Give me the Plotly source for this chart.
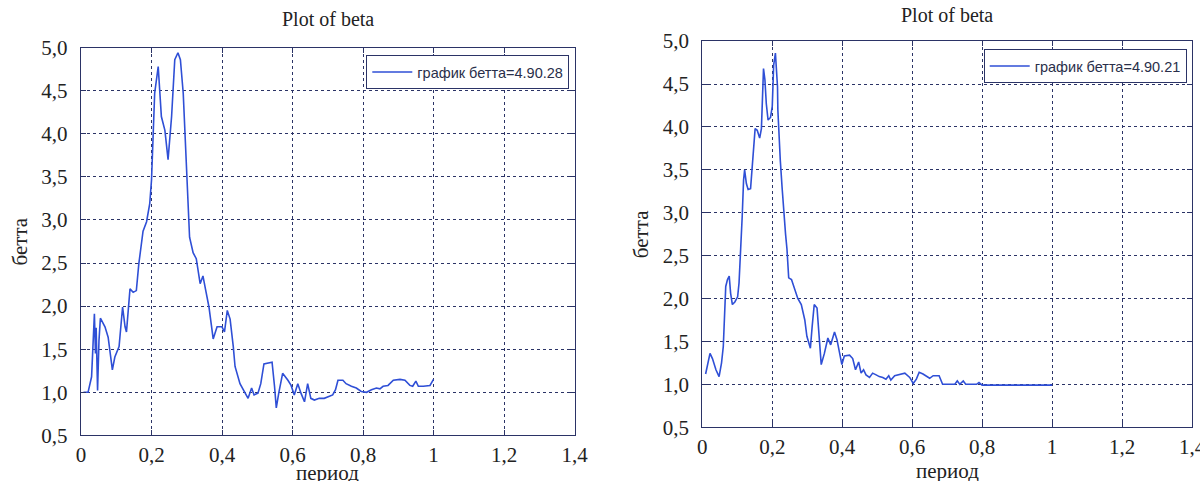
import plotly.graph_objects as go

# Beta over the period, first run (legend value 4.90.28)
period_a = [0.007, 0.02, 0.03, 0.035, 0.038, 0.041, 0.043, 0.047, 0.051, 0.055, 0.068, 0.077,
            0.089, 0.096, 0.108, 0.118, 0.125, 0.129, 0.139, 0.148, 0.157, 0.164, 0.171, 0.176,
            0.186, 0.195, 0.2, 0.205, 0.209, 0.219, 0.224, 0.228, 0.238, 0.247, 0.257, 0.266,
            0.275, 0.282, 0.29, 0.299, 0.308, 0.318, 0.327, 0.338, 0.346, 0.353, 0.363, 0.375,
            0.386, 0.4, 0.407, 0.415, 0.423, 0.432, 0.437, 0.451, 0.465, 0.474, 0.484, 0.491,
            0.502, 0.51, 0.519, 0.53, 0.542, 0.549, 0.554, 0.561, 0.572, 0.587, 0.596, 0.605,
            0.615, 0.624, 0.634, 0.643, 0.652, 0.662, 0.676, 0.69, 0.714, 0.722, 0.729, 0.743,
            0.752, 0.767, 0.781, 0.795, 0.81, 0.824, 0.838, 0.848, 0.857, 0.871, 0.886, 0.905,
            0.919, 0.933, 0.941, 0.95, 0.957, 0.971, 0.99, 1.0]
beta_a = [1.0, 1.0, 1.18, 1.55, 1.91, 1.45, 1.75, 1.02, 1.6, 1.86, 1.76, 1.64,
          1.26, 1.41, 1.53, 1.99, 1.76, 1.70, 2.2, 2.16, 2.18, 2.49, 2.72, 2.87,
          2.98, 3.19, 3.46, 4.12, 4.47, 4.78, 4.51, 4.2, 4.04, 3.70, 4.20, 4.86,
          4.94, 4.86, 4.47, 3.54, 2.8, 2.62, 2.55, 2.26, 2.35, 2.2, 1.99, 1.62,
          1.76, 1.76, 1.70, 1.95, 1.85, 1.53, 1.30, 1.10, 0.99, 0.93, 1.05, 0.97,
          0.99, 1.10, 1.33, 1.34, 1.35, 1.07, 0.82, 0.99, 1.22, 1.14, 1.08, 0.97,
          1.10, 0.99, 0.89, 1.10, 0.93, 0.91, 0.93, 0.93, 0.97, 1.03, 1.14, 1.14,
          1.10, 1.07, 1.05, 1.01, 1.0, 1.03, 1.05, 1.04, 1.07, 1.08, 1.14, 1.15,
          1.14, 1.08, 1.07, 1.13, 1.07, 1.07, 1.08, 1.15]

# Beta over the period, second run (legend value 4.90.21)
period_b = [0.0095, 0.017, 0.022, 0.029, 0.039, 0.048, 0.055, 0.06, 0.063, 0.067, 0.072, 0.077,
            0.081, 0.086, 0.093, 0.101, 0.105, 0.109, 0.112, 0.114, 0.118, 0.121, 0.126, 0.131,
            0.138, 0.142, 0.147, 0.151, 0.157, 0.164, 0.169, 0.172, 0.175, 0.179, 0.183, 0.188,
            0.195, 0.2, 0.204, 0.209, 0.212, 0.215, 0.216, 0.219, 0.223, 0.228, 0.234, 0.238,
            0.242, 0.247, 0.255, 0.264, 0.273, 0.283, 0.293, 0.299, 0.309, 0.314, 0.32, 0.328,
            0.333, 0.34, 0.349, 0.359, 0.367, 0.371, 0.378, 0.385, 0.392, 0.399, 0.406, 0.421,
            0.43, 0.438, 0.447, 0.454, 0.461, 0.468, 0.478, 0.487, 0.497, 0.506, 0.516, 0.525,
            0.533, 0.539, 0.55, 0.565, 0.579, 0.593, 0.603, 0.612, 0.62, 0.631, 0.65, 0.66,
            0.677, 0.687, 0.698, 0.722, 0.729, 0.736, 0.746, 0.753, 0.784, 0.791, 0.8, 0.889, 1.0]
beta_b = [1.12, 1.26, 1.36, 1.30, 1.17, 1.09, 1.25, 1.44, 1.71, 2.14, 2.22, 2.26,
          2.06, 1.93, 1.96, 2.02, 2.18, 2.49, 2.8, 2.95, 3.38, 3.5, 3.34, 3.27,
          3.28, 3.5, 3.81, 3.98, 3.96, 3.87, 3.98, 4.24, 4.68, 4.55, 4.27, 4.08,
          4.11, 4.24, 4.72, 4.86, 4.62, 4.47, 4.20, 3.85, 3.61, 3.30, 2.91, 2.75,
          2.58, 2.24, 2.22, 2.12, 2.0, 1.93, 1.75, 1.56, 1.42, 1.67, 1.93, 1.89,
          1.60, 1.23, 1.36, 1.54, 1.46, 1.52, 1.61, 1.52, 1.38, 1.23, 1.33, 1.34,
          1.30, 1.17, 1.26, 1.13, 1.17, 1.11, 1.08, 1.13, 1.11, 1.09, 1.08, 1.06,
          1.10, 1.05, 1.10, 1.12, 1.13, 1.08, 1.01, 1.06, 1.14, 1.12, 1.07, 1.10,
          1.10, 1.0, 1.0, 1.0, 1.04, 1.0, 1.04, 1.0, 1.0, 1.02, 0.99, 0.99, 0.99]

legend_a = "график бетта=4.90.28"
legend_b = "график бетта=4.90.21"
title_text = "Plot of beta"
x_title = "период"
y_title = "бетта"

x_ticks = [0, 0.2, 0.4, 0.6, 0.8, 1.0, 1.2, 1.4]
x_tick_labels = ["0", "0,2", "0,4", "0,6", "0,8", "1", "1,2", "1,4"]
y_ticks = [0.5, 1.0, 1.5, 2.0, 2.5, 3.0, 3.5, 4.0, 4.5, 5.0]
y_tick_labels = ["0,5", "1,0", "1,5", "2,0", "2,5", "3,0", "3,5", "4,0", "4,5", "5,0"]

W, H = 1200, 481
LINE_BLUE = "#2f4fd6"
NAVY = "#2b3366"
TEXT = "#222222"
SERIF = "Liberation Serif, Times New Roman, serif"
SANS = "Liberation Sans, Arial, sans-serif"
FS = 21

fig = go.Figure()
fig.add_trace(go.Scatter(x=period_a, y=beta_a, mode="lines", name=legend_a,
                         line=dict(color=LINE_BLUE, width=1.6),
                         xaxis="x", yaxis="y", legend="legend"))
fig.add_trace(go.Scatter(x=period_b, y=beta_b, mode="lines", name=legend_b,
                         line=dict(color=LINE_BLUE, width=1.6),
                         xaxis="x2", yaxis="y2", legend="legend2"))

axis_common = dict(
    showline=True, linecolor=NAVY, linewidth=1.4, mirror="ticks",
    ticks="inside", ticklen=5, tickcolor=NAVY, tickwidth=1.2,
    showgrid=True, gridcolor=NAVY, gridwidth=1.4, griddash="3px,3px",
    zeroline=False, automargin=False, ticklabeloverflow="allow",
    tickfont=dict(family=SERIF, size=FS, color=TEXT),
)

def xaxis_cfg(domain, anchor):
    return dict(axis_common, domain=domain, anchor=anchor, range=[0, 1.4],
                tickvals=x_ticks, ticktext=x_tick_labels, ticklabelstandoff=0)

def yaxis_cfg(domain, anchor):
    return dict(axis_common, domain=domain, anchor=anchor, range=[0.5, 5.0],
                tickvals=y_ticks, ticktext=y_tick_labels, ticklabelstandoff=8)

# plot-area boxes in pixels: (left, right, top, bottom)
box_a = (81, 574.5, 47.6, 435.4)
box_b = (702.3, 1192, 41.1, 427.2)

def dom(box):
    l, r, t, b = box
    return [l / W, r / W], [1 - b / H, 1 - t / H]

xa, ya = dom(box_a)
xb, yb = dom(box_b)

legend_common = dict(
    bgcolor="white", bordercolor=NAVY, borderwidth=1,
    font=dict(family=SANS, size=14.5, color="#2a2f4a"),
    xanchor="right", yanchor="top", itemclick=False, itemwidth=40,
)

fig.update_layout(
    width=W, height=H, margin=dict(l=0, r=0, t=0, b=0, autoexpand=False),
    paper_bgcolor="white", plot_bgcolor="white",
    xaxis=xaxis_cfg(xa, "y"), yaxis=yaxis_cfg(ya, "x"),
    xaxis2=xaxis_cfg(xb, "y2"), yaxis2=yaxis_cfg(yb, "x2"),
    showlegend=True,
    legend=dict(legend_common, x=569.3 / W, y=1 - 55 / H),
    legend2=dict(legend_common, x=1186.7 / W, y=1 - 49 / H),
)

def px_text(text, x, y, size=FS, angle=0, yanchor="middle"):
    fig.add_annotation(text=text, x=x / W, y=1 - y / H, xref="paper", yref="paper",
                       showarrow=False, textangle=angle, xanchor="center", yanchor=yanchor,
                       font=dict(family=SERIF, size=size, color=TEXT))

for box, title_y, ylab_x, xlab_top in ((box_a, 19, 20, 459), (box_b, 15, 641, 457)):
    l, r, t, b = box
    cx = (l + r) / 2
    px_text(title_text, cx, title_y, size=FS - 1)
    px_text(x_title, cx, xlab_top, yanchor="top")
    px_text(y_title, ylab_x, (t + b) / 2, angle=-90)

fig.write_html("out.html")
